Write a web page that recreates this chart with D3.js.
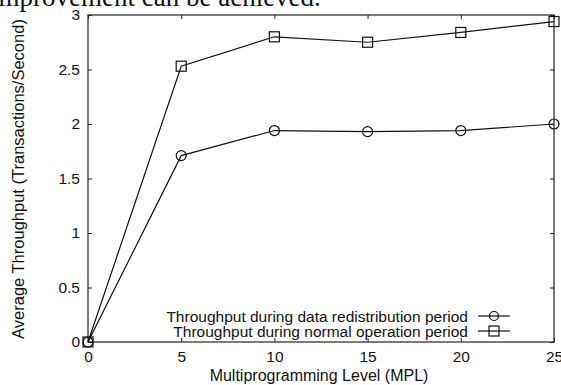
<!DOCTYPE html>
<html><head><meta charset="utf-8">
<script src="https://cdn.jsdelivr.net/npm/d3@7"></script>
<style>body{margin:0;background:#fff;}svg{display:block;}</style>
</head><body>
<svg id="c" width="561" height="385"></svg>
<script>
const mpl = [0, 5, 10, 15, 20, 25];
const redistribution = [0, 1.71, 1.94, 1.93, 1.94, 2.00];
const normal = [0, 2.53, 2.80, 2.75, 2.84, 2.94];
const xTicks = [0, 5, 10, 15, 20, 25];
const yTicks = [0, 0.5, 1, 1.5, 2, 2.5, 3];
const seriesNames = ["Throughput during data redistribution period", "Throughput during normal operation period"];

const svg = d3.select("#c");
const m = {l: 88, r: 554, t: 15, b: 342};
const x = d3.scaleLinear().domain([0, 25]).range([m.l, m.r]);
const y = d3.scaleLinear().domain([0, 3]).range([m.b, m.t]);
const sans = "'Liberation Sans', Arial, sans-serif";

// caption fragment at top
svg.append("text").attr("x", -9).attr("y", 6).attr("font-family", "'Liberation Serif', serif")
  .attr("font-size", 27).attr("fill", "#111").text("improvement can be achieved.");

// frame
svg.append("rect").attr("x", m.l).attr("y", m.t).attr("width", m.r - m.l).attr("height", m.b - m.t)
  .attr("fill", "none").attr("stroke", "#222").attr("stroke-width", 1.2);

// axes with inward ticks
const gx = svg.append("g").attr("transform", `translate(0,${m.b})`)
  .call(d3.axisBottom(x).tickValues(xTicks).tickSizeInner(-4).tickSizeOuter(0).tickPadding(9).tickFormat(d3.format("d")));
const gxt = svg.append("g").attr("transform", `translate(0,${m.t})`)
  .call(d3.axisTop(x).tickValues(xTicks).tickSizeInner(-4).tickSizeOuter(0).tickFormat(""));
const gy = svg.append("g").attr("transform", `translate(${m.l},0)`)
  .call(d3.axisLeft(y).tickValues(yTicks).tickSizeInner(-4).tickSizeOuter(0).tickPadding(8).tickFormat(d => d3.format("")(d)));
const gyr = svg.append("g").attr("transform", `translate(${m.r},0)`)
  .call(d3.axisRight(y).tickValues(yTicks).tickSizeInner(-4).tickSizeOuter(0).tickFormat(""));
[gx, gxt, gy, gyr].forEach(g => {
  g.select(".domain").remove();
  g.selectAll("line").attr("stroke", "#222");
  g.selectAll("text").attr("font-family", sans).attr("font-size", 15.5).attr("fill", "#111");
});

// axis titles
svg.append("text").attr("x", 319).attr("y", 381).attr("text-anchor", "middle")
  .attr("font-family", sans).attr("font-size", 16).attr("fill", "#111").text("Multiprogramming Level (MPL)");
svg.append("text").attr("transform", "translate(24,179) rotate(-90)").attr("text-anchor", "middle")
  .attr("font-family", sans).attr("font-size", 16.5).attr("fill", "#111").text("Average Throughput (Transactions/Second)");

// lines
const line = d3.line().x((d, i) => x(mpl[i])).y(d => y(d));
[redistribution, normal].forEach(s => {
  svg.append("path").datum(s).attr("d", line).attr("fill", "none").attr("stroke", "#111").attr("stroke-width", 1.2);
});
// markers
svg.append("g").selectAll("circle").data(redistribution).join("circle")
  .attr("cx", (d, i) => x(mpl[i])).attr("cy", d => y(d)).attr("r", 5)
  .attr("fill", "none").attr("stroke", "#111").attr("stroke-width", 1.2);
svg.append("g").selectAll("rect").data(normal).join("rect")
  .attr("x", (d, i) => x(mpl[i]) - 5).attr("y", d => y(d) - 5).attr("width", 10).attr("height", 10)
  .attr("fill", "none").attr("stroke", "#111").attr("stroke-width", 1.2);

// legend
const leg = svg.append("g");
const ly = [316, 331];
seriesNames.forEach((n, i) => {
  leg.append("text").attr("x", 468).attr("y", ly[i] + 5.5).attr("text-anchor", "end")
    .attr("font-family", sans).attr("font-size", 15.5).attr("fill", "#111").text(n);
  leg.append("line").attr("x1", 478).attr("x2", 510).attr("y1", ly[i]).attr("y2", ly[i])
    .attr("stroke", "#111").attr("stroke-width", 1.2);
  if (i === 0) leg.append("circle").attr("cx", 494).attr("cy", ly[i]).attr("r", 4.5)
    .attr("fill", "none").attr("stroke", "#111").attr("stroke-width", 1.2);
  else leg.append("rect").attr("x", 489).attr("y", ly[i] - 5).attr("width", 10).attr("height", 10)
    .attr("fill", "none").attr("stroke", "#111").attr("stroke-width", 1.2);
});
</script>
</body></html>
